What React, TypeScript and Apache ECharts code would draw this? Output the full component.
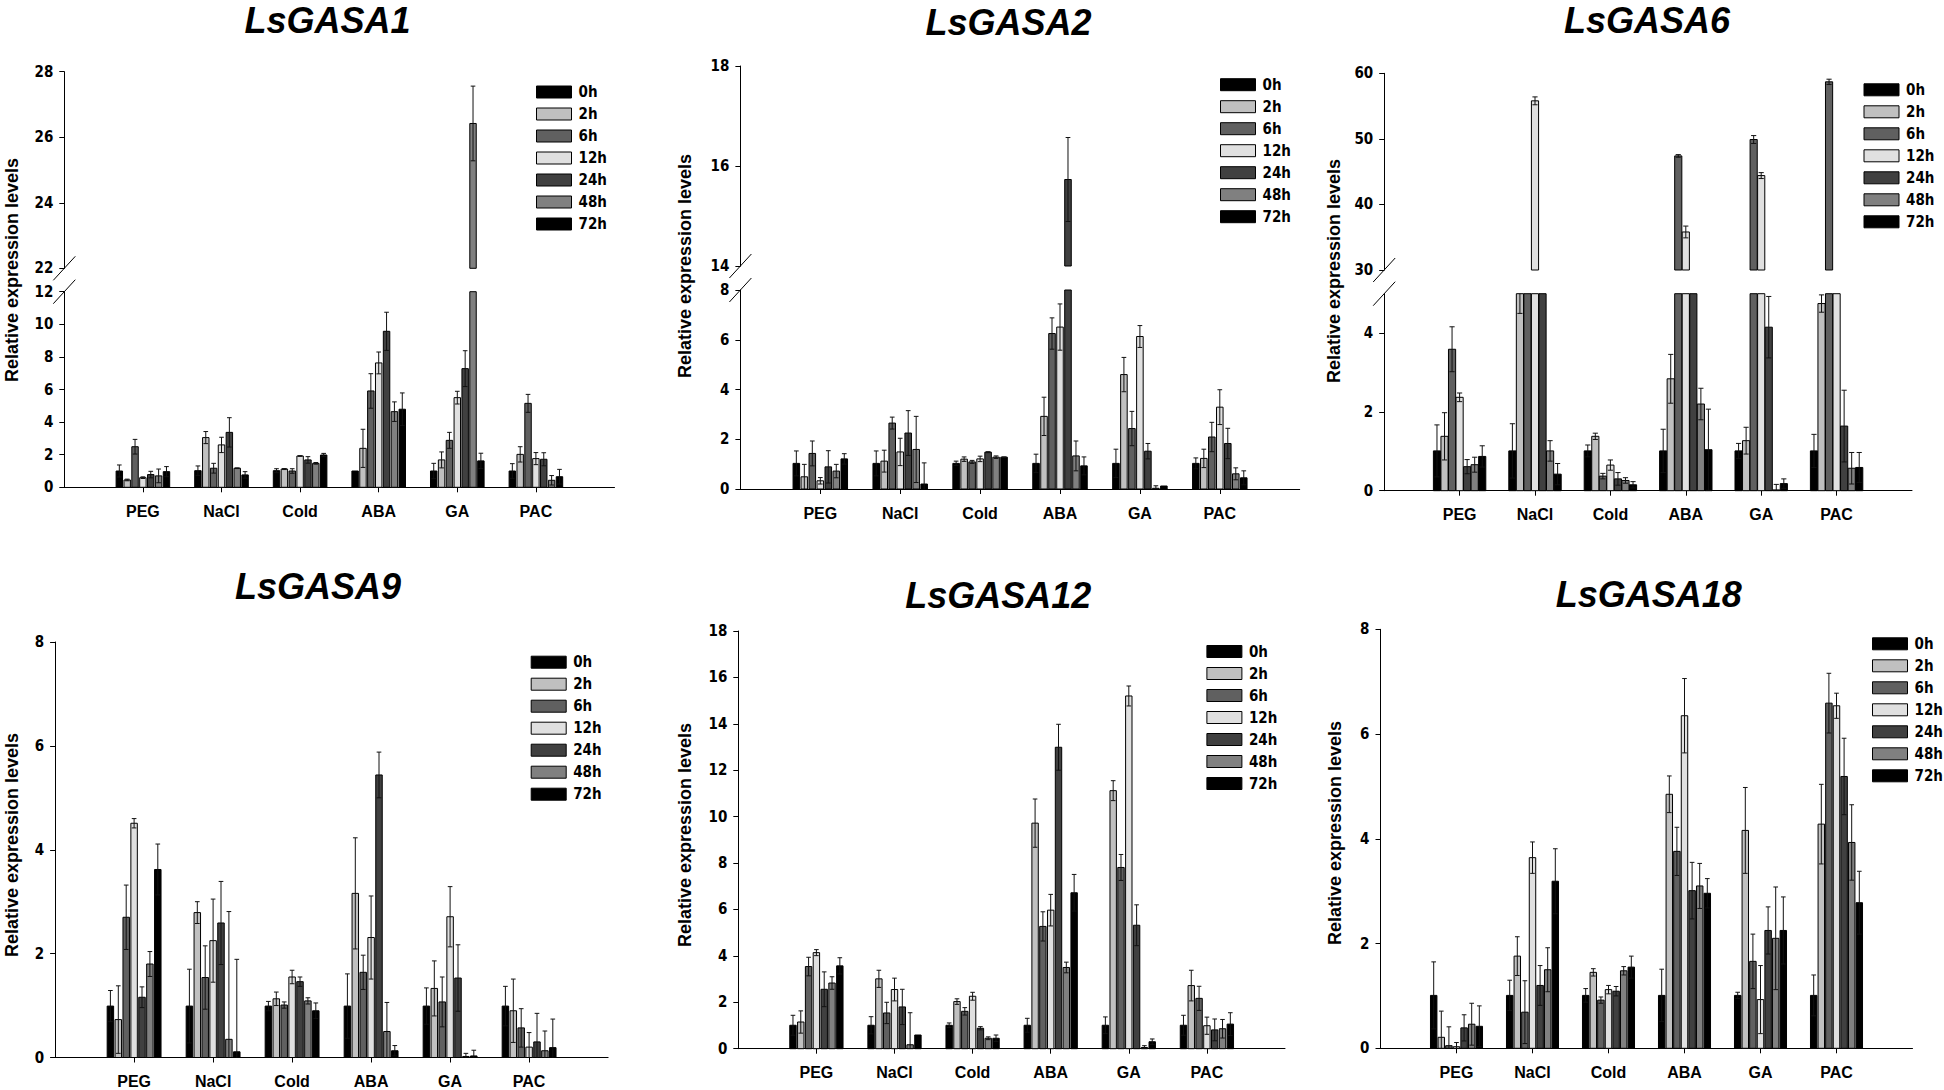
import React, { useEffect, useRef } from "react";
import * as echarts from "echarts";

const categories = ["PEG", "NaCl", "Cold", "ABA", "GA", "PAC"];
const timePoints = ["0h", "2h", "6h", "12h", "24h", "48h", "72h"];
const barColors = ["#000000", "#c0c0c0", "#606060", "#e0e0e0", "#404040", "#808080", "#000000"];
const axisCats = ["", ...categories, " "];

// rows = categories (PEG..PAC), columns = time points (0h..72h)
const gasa1Mean = [
  [1.0, 0.45, 2.49, 0.59, 0.78, 0.7, 0.96],
  [1.02, 3.05, 1.17, 2.6, 3.37, 1.17, 0.76],
  [1.02, 1.12, 1.0, 1.92, 1.68, 1.47, 1.98],
  [1.0, 2.39, 5.91, 7.63, 9.57, 4.64, 4.79],
  [1.0, 1.68, 2.88, 5.5, 7.28, 26.42, 1.62],
  [1.0, 2.02, 5.15, 1.76, 1.72, 0.43, 0.65],
];
const gasa1Err = [
  [0.37, 0.05, 0.45, 0.05, 0.2, 0.42, 0.31],
  [0.29, 0.37, 0.3, 0.47, 0.9, 0.02, 0.2],
  [0.12, 0.03, 0.14, 0.02, 0.2, 0.05, 0.1],
  [0.0, 1.17, 1.06, 0.67, 1.17, 0.6, 1.0],
  [0.47, 0.49, 0.49, 0.39, 1.1, 1.14, 0.47],
  [0.45, 0.47, 0.55, 0.37, 0.4, 0.29, 0.45],
];

const gasa2Mean = [
  [1.03, 0.49, 1.43, 0.33, 0.89, 0.72, 1.21],
  [1.03, 1.12, 2.65, 1.49, 2.25, 1.59, 0.2],
  [1.03, 1.2, 1.09, 1.21, 1.48, 1.28, 1.28],
  [1.03, 2.92, 6.25, 6.51, 15.73, 1.33, 0.93],
  [1.03, 4.6, 2.43, 6.13, 1.52, 0.03, 0.12],
  [1.03, 1.23, 2.09, 3.29, 1.83, 0.61, 0.45],
];
const gasa2Err = [
  [0.5, 0.5, 0.5, 0.13, 0.65, 0.27, 0.21],
  [0.5, 0.44, 0.24, 0.55, 0.9, 1.33, 0.85],
  [0.09, 0.09, 0.06, 0.11, 0.02, 0.05, 0.01],
  [0.37, 0.77, 0.63, 0.93, 0.84, 0.6, 0.36],
  [0.57, 0.69, 0.69, 0.44, 0.31, 0.1, 0.0],
  [0.22, 0.37, 0.59, 0.7, 0.61, 0.24, 0.28],
];

const gasa6Mean = [
  [1.01, 1.38, 3.59, 2.37, 0.61, 0.66, 0.87],
  [1.01, 5.5, 9.2, 55.8, 11.5, 1.01, 0.42],
  [1.01, 1.38, 0.37, 0.65, 0.3, 0.26, 0.15],
  [1.01, 2.84, 47.4, 35.8, 14.6, 2.2, 1.04],
  [1.01, 1.27, 49.9, 44.4, 4.15, 0.02, 0.18],
  [1.01, 4.75, 58.7, 10.3, 1.64, 0.57, 0.59],
];
const gasa6Err = [
  [0.66, 0.6, 0.57, 0.11, 0.18, 0.19, 0.27],
  [0.69, 1.0, 0.6, 0.6, 0.7, 0.26, 0.27],
  [0.15, 0.08, 0.07, 0.13, 0.16, 0.07, 0.08],
  [0.55, 0.62, 0.2, 0.9, 0.6, 0.4, 1.03],
  [0.19, 0.34, 0.6, 0.45, 0.78, 0.14, 0.12],
  [0.42, 0.22, 0.4, 0.6, 0.91, 0.4, 0.38],
];

const gasa9Mean = [
  [0.99, 0.73, 2.7, 4.51, 1.16, 1.8, 3.62],
  [0.99, 2.79, 1.54, 2.25, 2.59, 0.35, 0.11],
  [0.99, 1.13, 1.01, 1.55, 1.46, 1.09, 0.9],
  [0.99, 3.16, 1.64, 2.31, 5.44, 0.5, 0.13],
  [0.99, 1.33, 1.07, 2.71, 1.53, 0.02, 0.03],
  [0.99, 0.9, 0.57, 0.2, 0.3, 0.13, 0.19],
];
const gasa9Err = [
  [0.3, 0.65, 0.62, 0.09, 0.2, 0.24, 0.49],
  [0.71, 0.21, 0.61, 0.8, 0.8, 2.46, 1.78],
  [0.09, 0.13, 0.06, 0.13, 0.09, 0.06, 0.15],
  [0.62, 1.07, 0.33, 0.8, 0.44, 0.56, 0.1],
  [0.35, 0.53, 0.48, 0.58, 0.64, 0.06, 0.11],
  [0.38, 0.61, 0.37, 0.28, 0.55, 0.38, 0.55],
];

const gasa12Mean = [
  [1.01, 1.15, 3.54, 4.14, 2.56, 2.83, 3.57],
  [1.01, 3.01, 1.54, 2.55, 1.8, 0.17, 0.59],
  [1.01, 2.03, 1.61, 2.26, 0.88, 0.45, 0.45],
  [1.01, 9.72, 5.27, 5.97, 12.99, 3.5, 6.72],
  [1.01, 11.12, 7.81, 15.2, 5.32, 0.05, 0.3],
  [1.01, 2.72, 2.17, 0.99, 0.81, 0.86, 1.06],
];
const gasa12Err = [
  [0.43, 0.48, 0.4, 0.13, 0.75, 0.27, 0.35],
  [0.37, 0.37, 0.46, 0.49, 0.76, 1.38, 0.0],
  [0.1, 0.12, 0.16, 0.17, 0.07, 0.06, 0.14],
  [0.3, 1.04, 0.63, 0.68, 0.99, 0.23, 0.79],
  [0.36, 0.43, 0.56, 0.43, 0.88, 0.08, 0.12],
  [0.43, 0.66, 0.52, 0.37, 0.47, 0.4, 0.49],
];

const gasa18Mean = [
  [1.01, 0.21, 0.05, 0.03, 0.39, 0.46, 0.42],
  [1.01, 1.76, 0.69, 3.64, 1.2, 1.5, 3.19],
  [1.01, 1.45, 0.92, 1.12, 1.09, 1.48, 1.55],
  [1.01, 4.85, 3.76, 6.35, 3.01, 3.1, 2.96],
  [1.01, 4.16, 1.66, 0.93, 2.25, 2.1, 2.25],
  [1.01, 4.28, 6.59, 6.54, 5.19, 3.93, 2.78],
];
const gasa18Err = [
  [0.64, 0.5, 0.36, 0.08, 0.25, 0.4, 0.39],
  [0.29, 0.37, 0.6, 0.3, 0.38, 0.42, 0.62],
  [0.13, 0.07, 0.06, 0.08, 0.09, 0.08, 0.21],
  [0.5, 0.35, 0.46, 0.71, 0.54, 0.43, 0.28],
  [0.06, 0.82, 0.52, 0.65, 0.45, 0.98, 0.64],
  [0.39, 0.76, 0.57, 0.24, 0.73, 0.72, 0.6],
];

const ARIAL = "'Liberation Sans', Arial, Helvetica, sans-serif";
const NARROW = "'Liberation Sans Narrow', 'Arial Narrow', 'DejaVu Sans Condensed', 'Liberation Sans', sans-serif";

type Part = { min: number; max: number; interval: number; top: number; bottom: number; labels: number[] };
type Panel = {
  title: string;
  mean: number[][];
  err: number[][];
  left: number;
  slot: number;
  barFrac: number;
  parts: Part[];
  titleX: number;
  titleY: number;
  legendLeft: number;
  legendTop: number;
  nameX: number;
  nameY: number;
};

const panels: Panel[] = [
  {
    title: "LsGASA1", mean: gasa1Mean, err: gasa1Err, left: 64.3, slot: 78.6, barFrac: 0.082,
    parts: [
      { min: 22, max: 28, interval: 2, top: 71.7, bottom: 268.3, labels: [22, 24, 26, 28] },
      { min: 0, max: 12, interval: 2, top: 291.7, bottom: 487.3, labels: [0, 2, 4, 6, 8, 10, 12] },
    ],
    titleX: 327.5, titleY: 20, legendLeft: 536, legendTop: 84.5, nameX: 11.5, nameY: 270,
  },
  {
    title: "LsGASA2", mean: gasa2Mean, err: gasa2Err, left: 740.4, slot: 79.9, barFrac: 0.082,
    parts: [
      { min: 14, max: 18, interval: 2, top: 66, bottom: 266, labels: [14, 16, 18] },
      { min: 0, max: 8, interval: 2, top: 290, bottom: 489, labels: [0, 2, 4, 6, 8] },
    ],
    titleX: 1008.6, titleY: 22, legendLeft: 1220, legendTop: 77.2, nameX: 684.5, nameY: 266,
  },
  {
    title: "LsGASA6", mean: gasa6Mean, err: gasa6Err, left: 1384.2, slot: 75.4, barFrac: 0.095,
    parts: [
      { min: 30, max: 60, interval: 10, top: 73.3, bottom: 270, labels: [30, 40, 50, 60] },
      { min: 0, max: 5, interval: 2, top: 293.7, bottom: 490.7, labels: [0, 2, 4] },
    ],
    titleX: 1647, titleY: 20, legendLeft: 1863.5, legendTop: 82.3, nameX: 1334, nameY: 271,
  },
  {
    title: "LsGASA9", mean: gasa9Mean, err: gasa9Err, left: 55.1, slot: 79, barFrac: 0.082,
    parts: [{ min: 0, max: 8, interval: 2, top: 642, bottom: 1057.5, labels: [0, 2, 4, 6, 8] }],
    titleX: 318, titleY: 586, legendLeft: 530.7, legendTop: 654.7, nameX: 11.5, nameY: 845,
  },
  {
    title: "LsGASA12", mean: gasa12Mean, err: gasa12Err, left: 738.3, slot: 78.1, barFrac: 0.082,
    parts: [{ min: 0, max: 18, interval: 2, top: 631, bottom: 1048.7, labels: [0, 2, 4, 6, 8, 10, 12, 14, 16, 18] }],
    titleX: 998.3, titleY: 595, legendLeft: 1206.4, legendTop: 644, nameX: 685, nameY: 835,
  },
  {
    title: "LsGASA18", mean: gasa18Mean, err: gasa18Err, left: 1380.5, slot: 76, barFrac: 0.085,
    parts: [{ min: 0, max: 8, interval: 2, top: 629.3, bottom: 1048.3, labels: [0, 2, 4, 6, 8] }],
    titleX: 1648.7, titleY: 594, legendLeft: 1872, legendTop: 636.3, nameX: 1334.5, nameY: 833,
  },
];

function makeRender(k: number, part: Part, barFrac: number, color: string) {
  return (params: any, api: any) => {
    const ci = api.value(0);
    const v = api.value(1);
    const e = api.value(2);
    const lo = part.min;
    const hi = part.max;
    if (!(v > lo)) return null;
    const base = api.coord([ci, lo]);
    const next = api.coord([ci + 1, lo]);
    const slot = next[0] - base[0];
    const cx = base[0] + (k - 3) * 0.1 * slot;
    const bw = barFrac * slot;
    const yTop = api.coord([ci, Math.min(v, hi)])[1];
    const children: any[] = [
      {
        type: "rect",
        shape: { x: cx - bw / 2, y: yTop, width: bw, height: base[1] - yTop },
        style: { fill: color, stroke: "#000", lineWidth: 1 },
      },
    ];
    if (e > 0) {
      const t = v + e;
      const b = v - e;
      const a1 = Math.max(b, lo);
      const a2 = Math.min(t, hi);
      const lineStyle = { stroke: "#111", lineWidth: 1 };
      if (a2 > a1) {
        const y1 = api.coord([ci, a1])[1];
        const y2 = api.coord([ci, a2])[1];
        children.push({ type: "line", shape: { x1: cx, y1, x2: cx, y2 }, style: lineStyle });
      }
      const cap = bw * 0.36;
      if (t <= hi && t >= lo) {
        const y = api.coord([ci, t])[1];
        children.push({ type: "line", shape: { x1: cx - cap, y1: y, x2: cx + cap, y2: y }, style: lineStyle });
      }
      if (b >= lo && b <= hi) {
        const y = api.coord([ci, b])[1];
        children.push({ type: "line", shape: { x1: cx - cap, y1: y, x2: cx + cap, y2: y }, style: lineStyle });
      }
    }
    return { type: "group", children };
  };
}

function buildOption() {
  const grids: any[] = [];
  const xAxes: any[] = [];
  const yAxes: any[] = [];
  const series: any[] = [];
  const legends: any[] = [];
  const graphics: any[] = [];

  panels.forEach((p) => {
    p.parts.forEach((part, pi) => {
      const gi = grids.length;
      const isBottom = pi === p.parts.length - 1;
      grids.push({ left: p.left, top: part.top, width: p.slot * 7, height: part.bottom - part.top });
      xAxes.push({
        type: "category",
        gridIndex: gi,
        data: axisCats,
        boundaryGap: false,
        show: isBottom,
        axisLine: { show: true, onZero: false, lineStyle: { color: "#000", width: 1 } },
        axisTick: {
          show: true,
          length: 5,
          interval: (i: number) => i >= 1 && i <= 6,
          lineStyle: { color: "#000", width: 1 },
        },
        axisLabel: {
          interval: (i: number) => i >= 1 && i <= 6,
          margin: 16,
          fontFamily: ARIAL,
          fontWeight: "bold",
          fontSize: 16,
          color: "#000",
        },
        splitLine: { show: false },
      });
      const labels = part.labels;
      yAxes.push({
        type: "value",
        gridIndex: gi,
        min: part.min,
        max: part.max,
        interval: part.interval,
        axisLine: { show: true, onZero: false, lineStyle: { color: "#000", width: 1 } },
        axisTick: { show: true, length: 5, customValues: labels, lineStyle: { color: "#000", width: 1 } },
        axisLabel: {
          customValues: labels,
          formatter: (val: number) => (labels.indexOf(val) >= 0 ? String(val) : ""),
          margin: 11,
          fontFamily: NARROW,
          fontWeight: "bold",
          fontSize: 15,
          color: "#000",
        },
        splitLine: { show: false },
      });
      timePoints.forEach((tp, k) => {
        series.push({
          type: "custom",
          name: tp,
          xAxisIndex: gi,
          yAxisIndex: gi,
          encode: { x: 0, y: 1 },
          data: categories.map((c, ci) => [ci + 1, p.mean[ci][k], p.err[ci][k]]),
          renderItem: makeRender(k, part, p.barFrac, barColors[k]),
          itemStyle: { color: barColors[k], borderColor: "#000", borderWidth: 1 },
        });
      });
    });

    legends.push({
      orient: "vertical",
      left: p.legendLeft,
      top: p.legendTop,
      padding: 0,
      data: timePoints,
      icon: "rect",
      itemWidth: 35,
      itemHeight: 12,
      itemGap: 7,
      selectedMode: false,
      itemStyle: { borderColor: "#000", borderWidth: 1 },
      textStyle: {
        fontFamily: NARROW,
        fontWeight: "bold",
        fontSize: 15,
        lineHeight: 14,
        color: "#000",
        padding: [0, 0, 0, 2],
      },
    });

    graphics.push({
      type: "text",
      x: p.titleX,
      y: p.titleY,
      style: {
        text: p.title,
        fill: "#000",
        fontFamily: ARIAL,
        fontWeight: "bold",
        fontStyle: "italic",
        fontSize: 36,
        align: "center",
        verticalAlign: "middle",
        textAlign: "center",
        textVerticalAlign: "middle",
      },
    });
    graphics.push({
      type: "text",
      x: p.nameX,
      y: p.nameY,
      rotation: Math.PI / 2,
      style: {
        text: "Relative expression levels",
        fill: "#000",
        fontFamily: ARIAL,
        fontWeight: "bold",
        fontSize: 18,
        align: "center",
        verticalAlign: "middle",
        textAlign: "center",
        textVerticalAlign: "middle",
      },
    });
    if (p.parts.length > 1) {
      const ys = [p.parts[0].bottom, p.parts[1].top];
      ys.forEach((y) => {
        graphics.push({
          type: "line",
          shape: { x1: p.left - 11, y1: y + 12, x2: p.left + 11, y2: y - 12 },
          style: { stroke: "#000", lineWidth: 1 },
        });
      });
    }
  });

  return {
    animation: false,
    backgroundColor: "#ffffff",
    grid: grids,
    xAxis: xAxes,
    yAxis: yAxes,
    legend: legends,
    series,
    graphic: graphics,
  };
}

export default function App() {
  const ref = useRef<HTMLDivElement>(null);
  useEffect(() => {
    if (!ref.current) return;
    const chart = echarts.init(ref.current, null, { renderer: "svg" });
    chart.setOption(buildOption() as any);
    return () => chart.dispose();
  }, []);
  return (
    <div
      ref={ref}
      style={{ position: "absolute", left: 0, top: 0, width: 1944, height: 1090, background: "#fff" }}
    />
  );
}
